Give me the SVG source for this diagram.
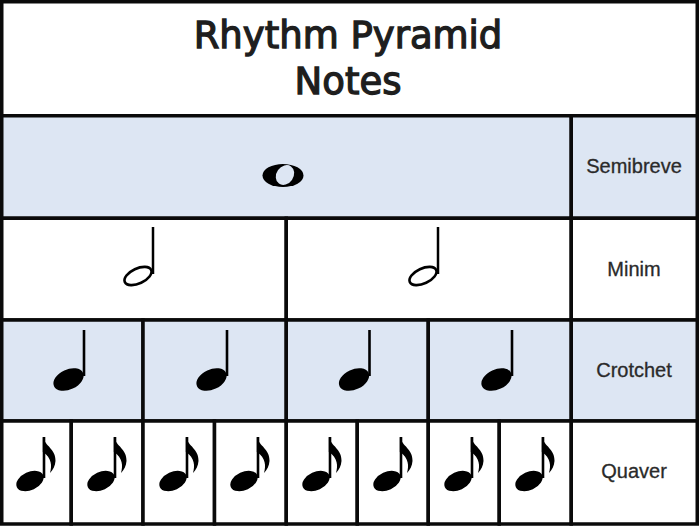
<svg xmlns="http://www.w3.org/2000/svg" xmlns:xlink="http://www.w3.org/1999/xlink" width="700" height="526" viewBox="0 0 700 526">
  <style>
    .cell { stroke: #0a0a0a; stroke-width: 3.5; }
    .blue { fill: #dde6f3; }
    .white { fill: #ffffff; }
    .title { font-family: "DejaVu Sans", "Liberation Sans", sans-serif; font-size: 37px; fill: #1e1e1e; stroke: #1e1e1e; stroke-width: 1.3px; text-anchor: middle; }
    .label { font-family: "Liberation Sans", "DejaVu Sans", sans-serif; font-size: 20px; fill: #2a2a2a; stroke: #2a2a2a; stroke-width: 0.3px; text-anchor: middle; }
  </style>
  <defs>
    <g id="minim">
      <ellipse cx="-5" cy="58" rx="14.5" ry="7.5" transform="rotate(-25 -5 58)" fill="none" stroke="#000" stroke-width="2.6"/>
      <line x1="10" y1="9" x2="10" y2="56" stroke="#000" stroke-width="2.5"/>
    </g>
    <g id="crotchet">
      <ellipse cx="-3" cy="59.5" rx="16" ry="10" transform="rotate(-25 -3 59.5)" fill="#000"/>
      <line x1="12.5" y1="10" x2="12.5" y2="56" stroke="#000" stroke-width="2.6"/>
    </g>
    <g id="quaver">
      <ellipse cx="-6" cy="60" rx="14.5" ry="9" transform="rotate(-25 -6 60)" fill="#000"/>
      <line x1="8" y1="16" x2="8" y2="57" stroke="#000" stroke-width="2.6"/>
      <path d="M6.8,16 C9,25 20,28 19.5,40 C19.2,45 17,49 14,52 C16,45 16,37 6.8,31 Z" fill="#000"/>
    </g>
  </defs>

  <rect x="0" y="0" width="700" height="526" fill="#ffffff"/>

  <g id="title">
    <rect class="cell white" x="1.75" y="1.75" width="695.5" height="114"/>
    <text class="title" x="348" y="48">Rhythm Pyramid</text>
    <text class="title" x="348" y="94">Notes</text>
  </g>

  <g id="semibreve-row">
    <rect class="cell blue" x="1.75" y="115.75" width="569.5" height="102.5"/>
    <g id="semibreve-note">
      <ellipse cx="283" cy="175.5" rx="20.5" ry="11.5" fill="#000"/>
      <ellipse cx="285" cy="175" rx="10.5" ry="8.5" transform="rotate(-55 285 175)" fill="#dde6f3"/>
    </g>
  </g>
  <g id="semibreve-label">
    <rect class="cell blue" x="571.25" y="115.75" width="126" height="102.5"/>
    <text class="label" x="634" y="173">Semibreve</text>
  </g>

  <g id="minim-row">
    <rect id="minim-1" class="cell white" x="1.75" y="218.25" width="284.5" height="101.75"/>
    <rect id="minim-2" class="cell white" x="286.25" y="218.25" width="285" height="101.75"/>
    <use xlink:href="#minim" href="#minim" transform="translate(143 218)"/>
    <use xlink:href="#minim" href="#minim" transform="translate(428 218)"/>
  </g>
  <g id="minim-label">
    <rect class="cell white" x="571.25" y="218.25" width="126" height="101.75"/>
    <text class="label" x="634" y="276">Minim</text>
  </g>

  <g id="crotchet-row">
    <rect class="cell blue" x="1.75" y="320" width="141.25" height="101"/>
    <rect class="cell blue" x="143" y="320" width="143.25" height="101"/>
    <rect class="cell blue" x="286.25" y="320" width="142" height="101"/>
    <rect class="cell blue" x="428.25" y="320" width="143" height="101"/>
    <use xlink:href="#crotchet" href="#crotchet" transform="translate(71.5 320)"/>
    <use xlink:href="#crotchet" href="#crotchet" transform="translate(214.5 320)"/>
    <use xlink:href="#crotchet" href="#crotchet" transform="translate(357 320)"/>
    <use xlink:href="#crotchet" href="#crotchet" transform="translate(499.5 320)"/>
  </g>
  <g id="crotchet-label">
    <rect class="cell blue" x="571.25" y="320" width="126" height="101"/>
    <text class="label" x="634" y="377">Crotchet</text>
  </g>

  <g id="quaver-row">
    <rect class="cell white" x="1.75" y="421" width="69.5" height="103"/>
    <rect class="cell white" x="71.25" y="421" width="71.75" height="103"/>
    <rect class="cell white" x="143" y="421" width="71.5" height="103"/>
    <rect class="cell white" x="214.5" y="421" width="71.75" height="103"/>
    <rect class="cell white" x="286.25" y="421" width="71" height="103"/>
    <rect class="cell white" x="357.25" y="421" width="71" height="103"/>
    <rect class="cell white" x="428.25" y="421" width="71" height="103"/>
    <rect class="cell white" x="499.25" y="421" width="72" height="103"/>
    <use xlink:href="#quaver" href="#quaver" transform="translate(36 421)"/>
    <use xlink:href="#quaver" href="#quaver" transform="translate(107 421)"/>
    <use xlink:href="#quaver" href="#quaver" transform="translate(179 421)"/>
    <use xlink:href="#quaver" href="#quaver" transform="translate(250 421)"/>
    <use xlink:href="#quaver" href="#quaver" transform="translate(322 421)"/>
    <use xlink:href="#quaver" href="#quaver" transform="translate(393 421)"/>
    <use xlink:href="#quaver" href="#quaver" transform="translate(464 421)"/>
    <use xlink:href="#quaver" href="#quaver" transform="translate(535 421)"/>
  </g>
  <g id="quaver-label">
    <rect class="cell white" x="571.25" y="421" width="126" height="103"/>
    <text class="label" x="634" y="478">Quaver</text>
  </g>
</svg>
